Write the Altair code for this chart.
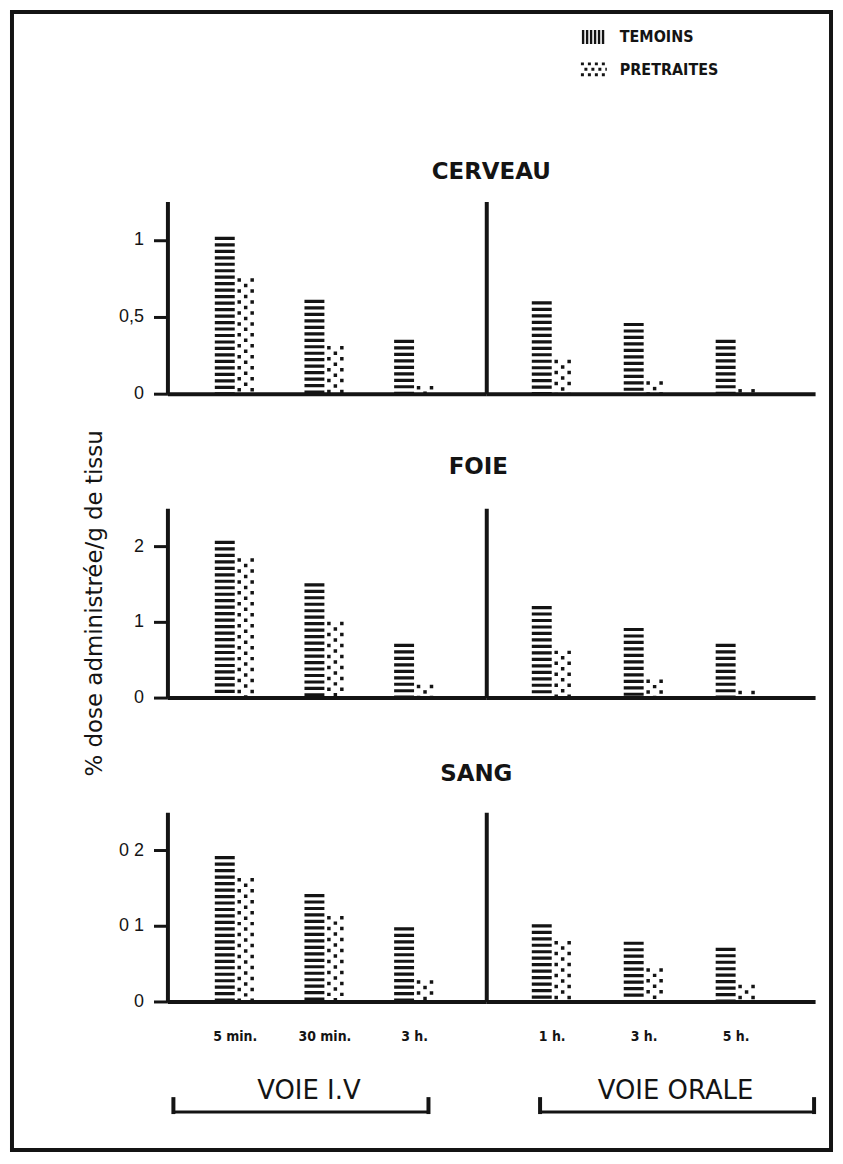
import altair as alt
import pandas as pd

# ---------------- data ----------------
organs = ["CERVEAU", "FOIE", "SANG"]
voies = ["VOIE I.V", "VOIE ORALE"]
iv_times = ["5 min.", "30 min.", "3 h."]
oral_times = ["1 h.", "3 h.", "5 h."]
series = ["TEMOINS", "PRETRAITES"]

cerveau_iv_temoins = [1.02, 0.61, 0.35]
cerveau_iv_pretraites = [0.75, 0.31, 0.05]
cerveau_oral_temoins = [0.60, 0.46, 0.35]
cerveau_oral_pretraites = [0.22, 0.08, 0.03]

foie_iv_temoins = [2.07, 1.51, 0.71]
foie_iv_pretraites = [1.84, 1.00, 0.17]
foie_oral_temoins = [1.21, 0.92, 0.71]
foie_oral_pretraites = [0.62, 0.24, 0.09]

sang_iv_temoins = [0.192, 0.142, 0.098]
sang_iv_pretraites = [0.163, 0.113, 0.028]
sang_oral_temoins = [0.102, 0.079, 0.071]
sang_oral_pretraites = [0.080, 0.044, 0.022]

y_title = "% dose administrée/g de tissu"
y_tops = [1.25, 2.5, 0.25]
y_ticks = [[0, 0.5, 1], [0, 1, 2], [0, 0.1, 0.2]]

values = {
    ("CERVEAU", "VOIE I.V"): (cerveau_iv_temoins, cerveau_iv_pretraites),
    ("CERVEAU", "VOIE ORALE"): (cerveau_oral_temoins, cerveau_oral_pretraites),
    ("FOIE", "VOIE I.V"): (foie_iv_temoins, foie_iv_pretraites),
    ("FOIE", "VOIE ORALE"): (foie_oral_temoins, foie_oral_pretraites),
    ("SANG", "VOIE I.V"): (sang_iv_temoins, sang_iv_pretraites),
    ("SANG", "VOIE ORALE"): (sang_oral_temoins, sang_oral_pretraites),
}
times_of = {"VOIE I.V": iv_times, "VOIE ORALE": oral_times}

rows = []
for organ in organs:
    for voie in voies:
        t_vals, p_vals = values[(organ, voie)]
        for tm, tv, pv in zip(times_of[voie], t_vals, p_vals):
            rows.append(dict(organ=organ, voie=voie, time=tm, series=series[0], value=tv))
            rows.append(dict(organ=organ, voie=voie, time=tm, series=series[1], value=pv))
df = pd.DataFrame(rows)
one = pd.DataFrame({"k": [0]})

# ---------------- style ----------------
INK = "#141414"
W = {"VOIE I.V": 320, "VOIE ORALE": 330}
XPAD = {"VOIE I.V": (0.543, 0.48), "VOIE ORALE": (0.553, 0.436)}
H = {"CERVEAU": 193, "FOIE": 190, "SANG": 190}
LABEL_EXPR = {
    "CERVEAU": "replace(format(datum.value, '~g'), '.', ',')",
    "FOIE": "format(datum.value, '~g')",
    "SANG": "datum.value == 0 ? '0' : replace(format(datum.value, '.1f'), '.', ' ')",
}
TITLE_STYLE = {"CERVEAU": (5, 17), "FOIE": (-8, 29), "SANG": (-10, 26)}


def panel(organ, voie, ytop, yticks):
    first = voie == voies[0]
    bottom = organ == organs[-1]
    times = times_of[voie]
    d = df[(df.organ == organ) & (df.voie == voie)]
    po, al = XPAD[voie]
    x = alt.X(
        "time:N",
        scale=alt.Scale(domain=times, paddingInner=0.53, paddingOuter=po, align=al),
        axis=alt.Axis(title=None, labels=bottom, ticks=False, tickSize=0, labelAngle=0,
                      labelPadding=28, labelFont="DejaVu Sans Condensed", labelFontWeight="bold",
                      labelFontSize=14, labelColor=INK, domainWidth=4, domainColor=INK),
    )
    if first:
        yaxis = alt.Axis(values=yticks, labelExpr=LABEL_EXPR[organ], tickSize=14, tickWidth=3,
                         tickColor=INK, labelPadding=10, labelFont="Liberation Sans",
                         labelFontSize=18, labelColor=INK, domainWidth=4, domainColor=INK,
                         grid=False, title=y_title if organ == "FOIE" else None,
                         titleFont="DejaVu Sans", titleFontSize=23, titleFontWeight="normal",
                         titleColor=INK, titlePadding=27, titleLimit=1200)
    else:
        yaxis = alt.Axis(labels=False, ticks=False, title=None, domainWidth=4,
                         domainColor=INK, grid=False)
    y = alt.Y("value:Q", scale=alt.Scale(domain=[0, ytop], nice=False), axis=yaxis)
    base = alt.Chart(d).encode(x=x, y=y, y2=alt.datum(0))
    tem = base.transform_filter(alt.datum.series == series[0]).mark_rule(
        color=INK, strokeWidth=20, strokeDash=[3.2, 3.3], xOffset=-10.5)
    pre = base.transform_filter(alt.datum.series == series[1])
    p1 = pre.mark_rule(color=INK, strokeWidth=3.5, strokeDash=[3.5, 7.5], xOffset=4)
    p2 = pre.mark_rule(color=INK, strokeWidth=3.5, strokeDash=[3.5, 7.5],
                       strokeDashOffset=5.5, xOffset=10.5)
    p3 = pre.mark_rule(color=INK, strokeWidth=3.5, strokeDash=[3.5, 7.5], xOffset=17)
    ch = alt.layer(tem, p1, p2, p3).properties(width=W[voie], height=H[organ])
    if not first:
        dx, off = TITLE_STYLE[organ]
        ch = ch.properties(title=alt.TitleParams(
            organ, anchor="start", align="center", dx=dx, offset=off, frame="group",
            font="DejaVu Sans", fontSize=23, fontWeight="bold", color=INK))
    return ch


# frame around the whole figure (top-left cell)
c1 = alt.Chart(one)
frame = alt.layer(
    c1.mark_rule(color=INK, strokeWidth=4).encode(x=alt.value(-158), x2=alt.value(668), y=alt.value(-5)),
    c1.mark_rule(color=INK, strokeWidth=4).encode(x=alt.value(-158), x2=alt.value(668), y=alt.value(1137)),
    c1.mark_rule(color=INK, strokeWidth=4).encode(x=alt.value(-156), y=alt.value(-5), y2=alt.value(1137)),
    c1.mark_rule(color=INK, strokeWidth=4).encode(x=alt.value(666), y=alt.value(-5), y2=alt.value(1137)),
).properties(width=W[voies[0]], height=70)

# legend (top-right cell)
legend_font = dict(align="left", baseline="middle", font="DejaVu Sans Condensed",
                   fontWeight="bold", fontSize=16, color=INK)
legend = alt.layer(
    c1.mark_rule(color=INK, strokeWidth=14, strokeDash=[2.4, 1.6]).encode(
        x=alt.value(96), x2=alt.value(120), y=alt.value(20)),
    c1.mark_rule(color=INK, strokeWidth=3, strokeDash=[3, 4]).encode(
        x=alt.value(95), x2=alt.value(121), y=alt.value(47)),
    c1.mark_rule(color=INK, strokeWidth=3, strokeDash=[3, 4], strokeDashOffset=3.5).encode(
        x=alt.value(95), x2=alt.value(121), y=alt.value(52.5)),
    c1.mark_rule(color=INK, strokeWidth=3, strokeDash=[3, 4]).encode(
        x=alt.value(95), x2=alt.value(121), y=alt.value(58)),
    c1.mark_text(**legend_font).encode(x=alt.value(134), y=alt.value(20), text=alt.value(series[0])),
    c1.mark_text(**legend_font).encode(x=alt.value(134), y=alt.value(53), text=alt.value(series[1])),
).properties(width=W[voies[1]], height=70)


def bracket(label, x0, x1, xt, width):
    return alt.layer(
        c1.mark_rule(color=INK, strokeWidth=3).encode(x=alt.value(x0), x2=alt.value(x1), y=alt.value(-4)),
        c1.mark_rule(color=INK, strokeWidth=4).encode(x=alt.value(x0), y=alt.value(-19), y2=alt.value(-2)),
        c1.mark_rule(color=INK, strokeWidth=4).encode(x=alt.value(x1), y=alt.value(-19), y2=alt.value(-2)),
        c1.mark_text(font="DejaVu Sans", fontSize=26, color=INK, baseline="middle").encode(
            x=alt.value(xt), y=alt.value(-25), text=alt.value(label)),
    ).properties(width=width, height=30)


cells = [frame, legend]
for organ, ytop, yt in zip(organs, y_tops, y_ticks):
    for voie in voies:
        cells.append(panel(organ, voie, ytop, yt))
cells.append(bracket(voies[0], 6, 262, 142, W[voies[0]]))
cells.append(bracket(voies[1], 54, 329, 190, W[voies[1]]))

chart = alt.concat(
    *cells, columns=2, spacing={"row": 115, "column": 0}, bounds="flush", align="each"
).properties(padding=0).configure_view(stroke=None).configure_axis(grid=False)

chart.save("out.html", embed_options={"renderer": "svg", "actions": False})
